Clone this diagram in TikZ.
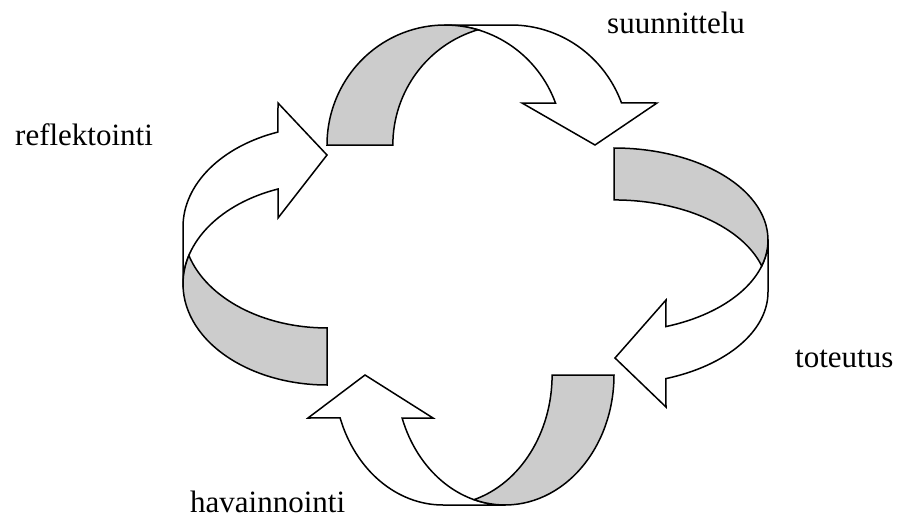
\documentclass[tikz,border=0pt]{standalone}
\usepackage{fontspec}
\setmainfont{Liberation Serif}
\begin{document}
\begin{tikzpicture}[x=1pt,y=-1pt,
  band/.style={draw=black,line width=1.5pt,line join=miter},
  face/.style={band,fill=white},
  backside/.style={band,fill=black!20},
  lbl/.style={font=\fontsize{31}{37}\selectfont,anchor=base west,inner sep=0pt}]
\useasboundingbox (0,0) rectangle (898,522);
% top arrow (suunnittelu)
\draw[face] (445,25) -- (511,25) arc[start angle=-90,end angle=-20.5,x radius=118,y radius=120]
  -- (657,103) -- (595,145) -- (522,103) -- (555.5,103)
  arc[start angle=-20.5,end angle=-90,x radius=118,y radius=120] -- cycle;
\draw[backside] (327,145) arc[start angle=180,end angle=286.2,x radius=118,y radius=120]
  arc[start angle=253.8,end angle=180,x radius=118,y radius=120] -- cycle;
% right arrow (toteutus)
\draw[face] (768,240) -- (768,292) arc[start angle=0,end angle=70.3,x radius=154,y radius=92]
  -- (666,407) -- (615,358) -- (666,300) -- (665.9,326.6)
  arc[start angle=70.3,end angle=0,x radius=154,y radius=92] -- cycle;
\draw[backside] (614,148) arc[start angle=-90,end angle=16.4,x radius=154,y radius=92]
  arc[start angle=-16.4,end angle=-90,x radius=154,y radius=92] -- cycle;
% bottom arrow (havainnointi)
\draw[face] (505,505) -- (443,505) arc[start angle=90,end angle=160.7,x radius=109,y radius=130]
  -- (308,418) -- (365,375) -- (433,418) -- (402.1,418)
  arc[start angle=160.7,end angle=90,x radius=109,y radius=130] -- cycle;
\draw[backside] (614,375) arc[start angle=0,end angle=106.5,x radius=109,y radius=130]
  arc[start angle=73.5,end angle=0,x radius=109,y radius=130] -- cycle;
% left arrow (reflektointi)
\draw[face] (183,284) -- (183,227) arc[start angle=180,end angle=250.1,x radius=144,y radius=101]
  -- (278,103) -- (327,155) -- (278,218) -- (278,189)
  arc[start angle=250.1,end angle=180,x radius=144,y radius=101] -- cycle;
\draw[backside] (327,385) arc[start angle=90,end angle=196.4,x radius=144,y radius=101]
  arc[start angle=163.6,end angle=90,x radius=144,y radius=101] -- cycle;
% labels
\node[lbl] (plan) at (607,33) {suunnittelu};
\node[lbl] (refl) at (15,145) {reflektointi};
\node[lbl] (tot) at (795,367) {toteutus};
\node[lbl] (hav) at (190,512) {havainnointi};
\end{tikzpicture}
\end{document}
